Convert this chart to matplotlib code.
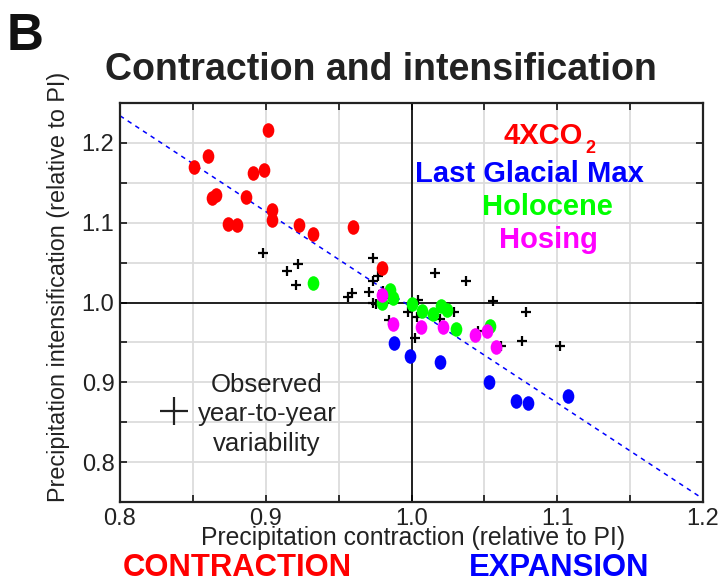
"""Precipitation contraction vs intensification scatter"""
import numpy as np
import matplotlib.pyplot as plt
from matplotlib.markers import MarkerStyle
from matplotlib.transforms import Affine2D
from matplotlib.ticker import FixedLocator, FixedFormatter

plt.rcParams['font.family'] = ['Liberation Sans', 'DejaVu Sans']

# 4xCO2 runs
co2_x = [0.9017, 0.8603, 0.8507, 0.8914, 0.8990, 0.8633, 0.8656, 0.8864,
         0.9040, 0.9040, 0.8738, 0.8800, 0.9227, 0.9323, 0.9600, 0.9799]
co2_y = [1.2166, 1.1833, 1.1695, 1.1625, 1.1660, 1.1310, 1.1345, 1.1320,
         1.1158, 1.1029, 1.0983, 1.0970, 1.0970, 1.0858, 1.0945, 1.0437]

# last glacial maximum
lgm_x = [0.9883, 0.9988, 1.0197, 1.0530, 1.0718, 1.0800, 1.1072]
lgm_y = [0.9491, 0.9325, 0.9258, 0.9000, 0.8763, 0.8741, 0.8829]

# holocene
hol_x = [0.9323, 0.9851, 0.9872, 0.9800, 1.0000, 1.0073, 1.0145, 1.0200,
         1.0246, 1.0302, 1.0540]
hol_y = [1.0245, 1.0158, 1.0054, 0.9988, 0.9979, 0.9895, 0.9854, 0.9950,
         0.9910, 0.9670, 0.9708]

# hosing
hos_x = [0.9800, 0.9874, 1.0062, 1.0217, 1.0434, 1.0517, 1.0581]
hos_y = [1.0100, 0.9729, 0.9695, 0.9695, 0.9595, 0.9637, 0.9437]

# observed year-to-year values
obs_x = [0.8978, 0.9218, 0.9143, 0.9206, 0.9739, 0.9767, 0.9737, 0.9705,
         0.9591, 0.9561, 0.9737, 0.9755, 0.9803, 0.9833, 0.9849, 1.0048,
         0.9975, 1.0039, 1.0073, 1.0027, 1.0162, 1.0373, 1.0290, 1.0197,
         1.0562, 1.0789, 1.0457, 1.0612, 1.0756, 1.1017]
obs_y = [1.0620, 1.0488, 1.0400, 1.0225, 1.0558, 1.0329, 1.0266, 1.0137,
         1.0120, 1.0070, 0.9990, 0.9980, 1.0146, 1.0104, 0.9783, 1.0029,
         0.9883, 0.9816, 0.9887, 0.9558, 1.0370, 1.0266, 0.9887, 0.9795,
         1.0016, 0.9883, 0.9641, 0.9458, 0.9520, 0.9450]

# fitted line end points
fit_x = [0.8, 1.2]
fit_y = [1.234, 0.754]

# legend cross position
key_x = [0.837]
key_y = [0.8635]

ticks = np.round(np.arange(0.8, 1.2001, 0.05), 2)
tick_labels = [('%.1f' % t) if i % 2 == 0 else '' for i, t in enumerate(ticks)]
yticks = np.round(np.arange(0.8, 1.2001, 0.05), 2)
ytick_labels = [('%.1f' % t) if i % 2 == 0 else '' for i, t in enumerate(yticks)]

W, H = 721, 582


def fx(x):
    return x / W


def fy(y):
    return 1 - y / H


fig = plt.figure(figsize=(W / 100, H / 100), dpi=100)
ax = fig.add_axes([fx(120), fy(502), (703 - 120) / W, (502 - 103) / H])

ax.set_xlim(0.8, 1.2)
ax.set_ylim(0.75, 1.25)
ax.xaxis.set_major_locator(FixedLocator(ticks))
ax.xaxis.set_major_formatter(FixedFormatter(tick_labels))
ax.yaxis.set_major_locator(FixedLocator(yticks))
ax.yaxis.set_major_formatter(FixedFormatter(ytick_labels))
ax.grid(True, color='#dcdcdc', lw=1.3, zorder=0)
ax.set_axisbelow(True)
ax.tick_params(direction='in', length=5, width=1.3, top=True, right=True,
               color='#222222', labelsize=17, pad=4, labelcolor='#222222')
for sp in ax.spines.values():
    sp.set_color('#222222')
    sp.set_linewidth(1.6)

ax.axvline(1.0, color='k', lw=1.2, zorder=1)
ax.axhline(1.0, color='k', lw=1.2, zorder=1)

ax.plot(fit_x, fit_y, color='#0000ff', lw=1.1, ls=(0, (3, 3)), zorder=2)

oval = MarkerStyle('o', transform=Affine2D().scale(0.8, 1.0))
ax.plot(obs_x, obs_y, '+', color='k', ms=7, mew=1.6, zorder=3)
ax.plot(co2_x, co2_y, ls='none', marker=oval, ms=10.5, color='#ff0000', mec='none', zorder=4)
ax.plot(lgm_x, lgm_y, ls='none', marker=oval, ms=10.5, color='#0000ff', mec='none', zorder=4)
ax.plot(hol_x, hol_y, ls='none', marker=oval, ms=10.5, color='#00ff00', mec='none', zorder=4)
ax.plot(hos_x, hos_y, ls='none', marker=oval, ms=10.5, color='#ff00ff', mec='none', zorder=4)

ax.plot(key_x, key_y, '+', color='#222222', ms=20, mew=1.6, zorder=3)

# legend texts
fig.text(fx(543), fy(144), '4XCO', color='#ff0000', fontsize=21,
         fontweight='bold', ha='center', va='baseline')
fig.text(fx(590), fy(153), '2', color='#ff0000', fontsize=13,
         fontweight='bold', ha='center', va='baseline')
fig.text(fx(529), fy(181.5), 'Last Glacial Max', color='#0000ff', fontsize=21,
         fontweight='bold', ha='center', va='baseline')
fig.text(fx(547), fy(215), 'Holocene', color='#00ff00', fontsize=21,
         fontweight='bold', ha='center', va='baseline')
fig.text(fx(548.5), fy(248), 'Hosing', color='#ff00ff', fontsize=21,
         fontweight='bold', ha='center', va='baseline')

fig.text(fx(267), fy(391.5), 'Observed', color='#222222', fontsize=18.5,
         ha='center', va='baseline')
fig.text(fx(267), fy(421.5), 'year-to-year', color='#222222', fontsize=18.5,
         ha='center', va='baseline')
fig.text(fx(267), fy(451), 'variability', color='#222222', fontsize=18.5,
         ha='center', va='baseline')

# labels
fig.text(fx(413.5), fy(544.5), 'Precipitation contraction (relative to PI)',
         color='#222222', fontsize=17.8, ha='center', va='baseline')
fig.text(fx(58), fy(287), 'Precipitation intensification (relative to PI)',
         color='#222222', fontsize=16.8, rotation=90,
         ha='center', va='center')
fig.text(fx(237.5), fy(575.5), 'CONTRACTION', color='#ff0000', fontsize=22.3,
         fontweight='bold', ha='center', va='baseline')
fig.text(fx(559), fy(575.5), 'EXPANSION', color='#0000ff', fontsize=22.3,
         fontweight='bold', ha='center', va='baseline')

fig.text(fx(381), fy(80), 'Contraction and intensification', color='#222222',
         fontsize=27, fontweight='bold', ha='center', va='baseline')
fig.text(fx(7), fy(50), 'B', color='#111111', fontsize=37, fontweight='bold',
         ha='left', va='baseline')

fig.savefig('out.png', dpi=100)
